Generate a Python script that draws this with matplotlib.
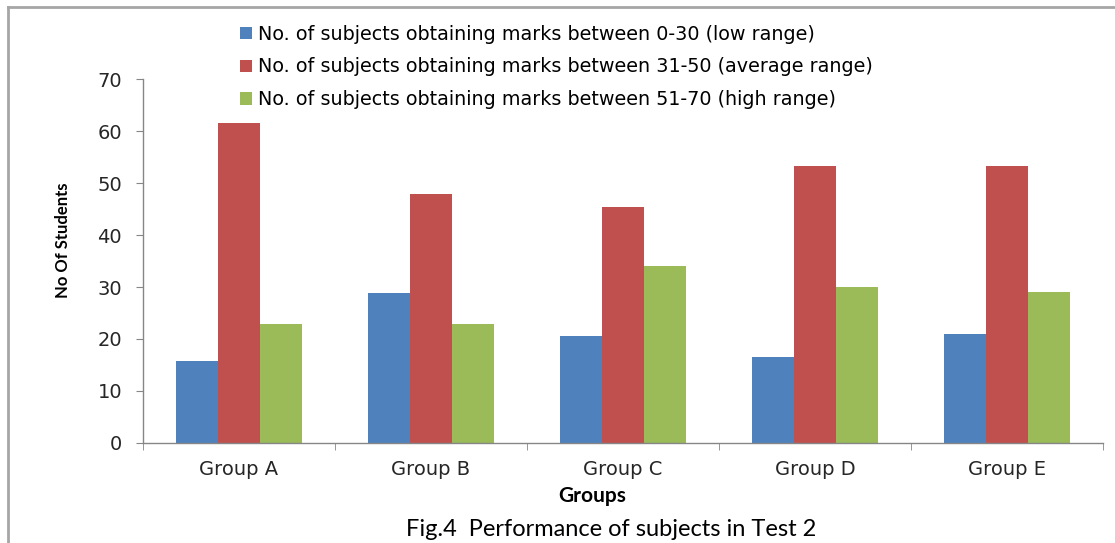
import numpy as np
import matplotlib.pyplot as plt
from matplotlib.lines import Line2D

groups = ["Group A", "Group B", "Group C", "Group D", "Group E"]
low_range = [15.8, 28.9, 20.5, 16.5, 21.0]
avg_range = [61.5, 47.8, 45.3, 53.3, 53.3]
high_range = [22.8, 22.9, 34.0, 30.0, 29.0]

series_labels = [
    "No. of subjects obtaining marks between 0-30 (low range)",
    "No. of subjects obtaining marks between 31-50 (average range)",
    "No. of subjects obtaining marks between 51-70 (high range)",
]
colors = ["#4f81bd", "#c0504d", "#9bbb59"]

W, H = 1115, 543
fig = plt.figure(figsize=(W / 100, H / 100), dpi=100)

# axes box in pixels: x 143..1103, y 79..443
ax = fig.add_axes([143 / W, 1 - 443 / H, (1103 - 143) / W, (443 - 79) / H])

x = np.arange(len(groups))
bw = 0.219
for i, vals in enumerate([low_range, avg_range, high_range]):
    ax.bar(x + (i - 1) * bw, vals, width=bw, color=colors[i], label=series_labels[i], zorder=2)

ax.set_xlim(-0.5, len(groups) - 0.5)
ax.set_ylim(0, 70)
ax.set_yticks(range(0, 71, 10))
ax.set_xticks(x)
ax.set_xticklabels(groups, fontsize=14, color="#262626")
ax.set_xticks(np.arange(-0.5, len(groups), 1.0), minor=True)
ax.tick_params(axis="x", which="major", length=0, pad=12)
ax.tick_params(axis="x", which="minor", length=5, color="#868686", direction="out")
ax.tick_params(axis="y", length=5, color="#868686", labelsize=14, pad=10)
for lab in ax.get_yticklabels():
    lab.set_color("#262626")

for s in ["top", "right"]:
    ax.spines[s].set_visible(False)
for s in ["left", "bottom"]:
    ax.spines[s].set_color("#868686")
    ax.spines[s].set_linewidth(1.0)

fig.text(63 / W, 1 - 240 / H, "No Of Students", rotation=90, ha="center", va="center",
         fontsize=12, fontweight="bold", family="Lato")
fig.text(592 / W, 1 - 496 / H, "Groups", ha="center", va="center",
         fontsize=15, fontweight="bold", family="Lato")
fig.text(611 / W, 1 - 530 / H, "Fig.4  Performance of subjects in Test 2", ha="center", va="center",
         fontsize=17, family="Lato")

fig.legend(loc="upper left", bbox_to_anchor=(232 / W, 1 - 17 / H), frameon=False,
           fontsize=13.8, handlelength=0.62, handleheight=0.62, handletextpad=0.35,
           labelspacing=0.72, borderaxespad=0)

# outer frame (top and left edges)
fig.add_artist(Line2D([8 / W, 1], [1 - 7 / H, 1 - 7 / H], color="#a6a6a6", lw=2))
fig.add_artist(Line2D([8 / W, 8 / W], [0, 1 - 7 / H], color="#a6a6a6", lw=2))

fig.savefig("out.png", dpi=100)
